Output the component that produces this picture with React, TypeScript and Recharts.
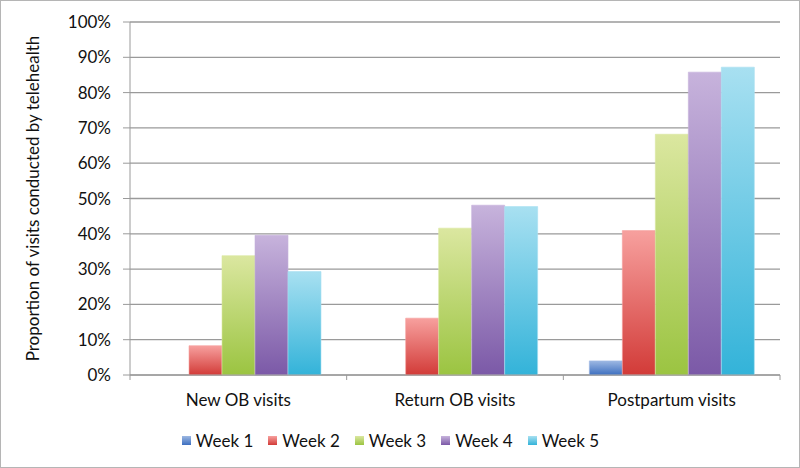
import React from "react";
import { BarChart, Bar, XAxis, YAxis, CartesianGrid, Legend } from "recharts";

const categories = ["New OB visits", "Return OB visits", "Postpartum visits"];
const week1 = [0, 0, 0.04];
const week2 = [0.083, 0.161, 0.409];
const week3 = [0.338, 0.416, 0.682];
const week4 = [0.396, 0.481, 0.858];
const week5 = [0.293, 0.477, 0.872];
const yTicks = [0, 0.1, 0.2, 0.3, 0.4, 0.5, 0.6, 0.7, 0.8, 0.9, 1];

const series = [
  { key: "w1", name: "Week 1", values: week1, top: "#9db8e2", bottom: "#3d6fc0" },
  { key: "w2", name: "Week 2", values: week2, top: "#f7a09e", bottom: "#d23b38" },
  { key: "w3", name: "Week 3", values: week3, top: "#dbe7a0", bottom: "#9bc441" },
  { key: "w4", name: "Week 4", values: week4, top: "#c7b3dc", bottom: "#7b59a7" },
  { key: "w5", name: "Week 5", values: week5, top: "#a8e0f1", bottom: "#33b3d9" },
];

const data = categories.map((c, i) => {
  const row: Record<string, string | number> = { name: c };
  series.forEach((s) => (row[s.key] = s.values[i]));
  return row;
});

const FONT = "Lato, 'Open Sans', sans-serif";
const AXIS = "#9a9a9a";
const TEXT = "#111";

function CatTick(props: any) {
  const { x, y, payload, index, width } = props;
  const band = (width || 650) / categories.length;
  const axisY = y - 19;
  return (
    <g>
      <line x1={x - band / 2} x2={x - band / 2} y1={axisY} y2={axisY + 5} stroke={AXIS} />
      {index === categories.length - 1 && (
        <line x1={x + band / 2} x2={x + band / 2} y1={axisY} y2={axisY + 5} stroke={AXIS} />
      )}
      <text x={x} y={y} dy="0.71em" textAnchor="middle" fill={TEXT} fontSize={17} fontFamily={FONT}>
        {payload.value}
      </text>
    </g>
  );
}

function LegendContent() {
  return (
    <div style={{ display: "flex", justifyContent: "center", alignItems: "center", height: 30, fontFamily: FONT, fontSize: 17, color: TEXT }}>
      {series.map((s, i) => (
        <div key={s.key} style={{ display: "flex", alignItems: "center", marginLeft: i === 0 ? 0 : 15 }}>
          <span style={{ display: "inline-block", width: 9, height: 9, marginRight: 5, background: `linear-gradient(${s.top}, ${s.bottom})` }} />
          <span>{s.name}</span>
        </div>
      ))}
    </div>
  );
}

export default function App() {
  return (
    <div style={{ position: "absolute", left: 0, top: 0, width: 800, height: 468, boxSizing: "border-box", border: "1px solid #b5b5b5", background: "#fff" }}>
      <BarChart width={798} height={466} data={data} margin={{ top: 21, right: 19, left: 0, bottom: 12 }} barCategoryGap="12%" barGap={0}>
        <defs>
          {series.map((s) => (
            <linearGradient key={s.key} id={`g-${s.key}`} x1="0" y1="0" x2="0" y2="1">
              <stop offset="0%" stopColor={s.top} />
              <stop offset="100%" stopColor={s.bottom} />
            </linearGradient>
          ))}
        </defs>
        <CartesianGrid vertical={false} stroke={AXIS} strokeWidth={1.3} />
        <XAxis dataKey="name" height={50} tickLine={false} tickSize={5} tickMargin={14} stroke={AXIS} tick={<CatTick />} interval={0} />
        <YAxis
          width={129}
          domain={[0, 1]}
          ticks={yTicks}
          tickFormatter={(v: number) => `${Math.round(v * 100)}%`}
          tickSize={7}
          tickMargin={12}
          stroke={AXIS}
          tick={{ fill: TEXT, fontSize: 17, fontFamily: FONT }}
          label={{ value: "Proportion of visits conducted by telehealth", angle: -90, position: "insideLeft", dx: 27, style: { textAnchor: "middle", fontSize: 17, fontFamily: FONT, fill: TEXT } }}
        />
        <Legend verticalAlign="bottom" height={30} content={<LegendContent />} />
        {series.map((s) => (
          <Bar key={s.key} dataKey={s.key} name={s.name} fill={`url(#g-${s.key})`} stroke={s.top} strokeOpacity={0.6} isAnimationActive={false} />
        ))}
      </BarChart>
    </div>
  );
}
